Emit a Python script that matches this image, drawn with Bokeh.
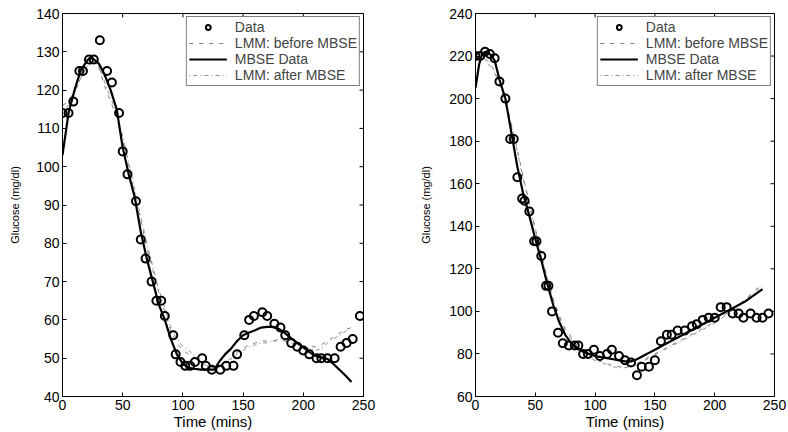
import math
from bokeh.plotting import figure
from bokeh.layouts import row
from bokeh.models import FixedTicker, Range1d, Legend, LegendItem
from bokeh.embed import file_html
from bokeh.resources import INLINE

# ---------------- Left panel data ----------------
left_data_t = [0, 5, 9, 14, 17, 22, 26, 31, 37, 41, 47, 50, 54, 61, 65, 69, 74, 78, 82, 85,
               92, 94, 98, 102, 106, 110, 116, 119, 124, 131, 136, 142, 145, 151, 155, 159,
               166, 170, 176, 181, 185, 190, 195, 200, 205, 211, 215, 220, 226, 231, 236, 241, 247]
left_data_g = [114, 114, 117, 125, 125, 128, 128, 133, 125, 122, 114, 104, 98, 91, 81, 76, 70, 65, 65, 61,
               56, 51, 49, 48, 48, 49, 50, 48, 47, 47, 48, 48, 51, 56, 60, 61,
               62, 61, 59, 58, 56, 54, 53, 52, 51, 50, 50, 50, 50, 53, 54, 55, 61]

left_mbse_t = [0, 5, 10, 15, 20, 23, 26, 30, 35, 40, 45, 50, 55, 60, 65, 70, 75, 80, 85, 90,
               95, 100, 105, 110, 115, 120, 126, 130, 135, 140, 145, 150, 155, 160, 165, 170,
               175, 180, 185, 190, 195, 200, 205, 210, 215, 220, 225, 230, 235, 240]
left_mbse_g = [103, 114, 120, 125, 127.5, 128.5, 128, 127, 124, 120, 115, 105, 98, 92, 83, 76, 70, 64, 60, 55,
               51, 48.5, 47.5, 47.2, 47, 47, 47, 49, 51, 52.5, 54.5, 56, 56.7, 57.3, 58, 58.2,
               58.2, 57.6, 56.5, 55.2, 54, 52.8, 51.6, 50.6, 50.2, 49.8, 48.5, 47, 45.5, 43.8]

lmm_t = [0, 5, 10, 15, 20, 25, 30, 35, 40, 45, 50, 55, 60, 65, 70, 75, 80, 85, 90, 95,
         100, 105, 110, 115, 120, 125, 130, 135, 140, 145, 150, 155, 160, 165, 170, 175,
         180, 185, 190, 195, 200, 205, 210, 215, 220, 225, 230, 235, 240]
left_lmm_before = [116, 117, 120, 123, 126, 127, 126, 121, 117, 113, 107, 100, 93, 86, 79, 73, 67, 62, 57, 54,
                   52, 51, 50, 48.5, 48, 47.5, 48, 49, 50, 51.5, 52.5, 53.5, 54, 54.5, 54.5, 54.5,
                   54.5, 54.5, 54, 53.5, 53, 53, 53, 53.5, 54.5, 55.5, 56.5, 57.5, 58]
left_lmm_after = [115, 116, 119, 123, 126, 127.5, 126.5, 122, 118, 114, 108, 101, 94, 87, 80, 74, 68, 63, 58, 55,
                  53, 52, 50.5, 49, 48, 47.5, 47.5, 48.5, 49.5, 51, 52, 53, 53.5, 54, 54, 54.5,
                  55, 54.5, 54, 53.5, 53, 52.5, 52, 52.5, 54, 55, 56, 57, 58]

# ---------------- Right panel data ----------------
right_data_t = [0, 4, 8, 12, 16, 20, 25, 29, 32, 35, 39, 41, 45, 49, 51, 55, 59, 61, 64, 69,
                73, 78, 83, 86, 90, 94, 99, 104, 110, 114, 120, 125, 130, 135, 139, 145,
                150, 155, 160, 164, 169, 175, 181, 185, 190, 195, 200, 205, 210, 215, 220,
                224, 230, 235, 240, 245]
right_data_g = [220, 220, 222, 221, 219, 208, 200, 181, 181, 163, 153, 152, 147, 133, 133, 126, 112, 112, 100, 90,
                85, 84, 84, 84, 80, 80, 82, 79, 80, 82, 79, 77, 76, 70, 74, 74,
                77, 86, 89, 89, 91, 91, 93, 94, 96, 97, 97, 102, 102, 99, 99,
                97, 99, 97, 97, 99]

right_mbse_t = [0, 3, 5, 8, 12, 16, 20, 25, 30, 35, 40, 45, 50, 55, 60, 65, 70, 75, 80, 85,
                90, 95, 100, 105, 110, 115, 120, 125, 130, 135, 140, 145, 150, 155, 160, 165,
                170, 175, 180, 185, 190, 195, 200, 205, 210, 215, 220, 225, 230, 235, 240]
right_mbse_g = [205, 216, 220, 222, 221, 218, 209, 200, 184, 168, 155, 145, 134, 124, 113, 103, 95, 89, 85, 83,
                81, 80, 79, 78.5, 78, 77.5, 77, 76.5, 76.5, 77.5, 79, 80.5, 82, 83.5, 85, 86.5,
                88, 89.5, 91, 92.5, 94, 95.5, 97, 98.5, 100, 101.5, 103, 104.5, 106.5, 108.5, 110.5]
right_lmm_before = [220, 219, 218, 214, 208, 199, 188, 176, 163, 151, 139, 127, 116, 106, 98, 92, 88, 84, 81, 79,
                    77.5, 76.5, 75.5, 74.5, 74, 74, 74.5, 75.5, 77, 78.5, 80, 81.5, 83, 84.5, 86, 87.5,
                    89, 90.5, 92, 93.5, 95, 97, 99, 101, 103, 105.5, 108, 110.5, 113]
right_lmm_after = [219, 219, 217, 213, 207, 198, 187, 175, 162, 150, 138, 126, 115, 105, 97, 91, 87, 83, 80, 78,
                   77, 76, 75, 74, 73.5, 73.5, 74, 75, 76.5, 78, 79.5, 81, 82.5, 84, 85.5, 87,
                   88.5, 90, 91.5, 93, 94.5, 96.5, 98.5, 100.5, 102.5, 105, 107.5, 110, 112]

x_ticks = [0, 50, 100, 150, 200, 250]
left_y_ticks = [40, 50, 60, 70, 80, 90, 100, 110, 120, 130, 140]
right_y_ticks = [60, 80, 100, 120, 140, 160, 180, 200, 220, 240]

FONT = "Liberation Sans"


def make_panel(data_t, data_g, mbse_t, mbse_g, lt, lb, la, yticks, border_left, border_right, ylab_standoff):
    p = figure(width=394, height=432, output_backend="svg", toolbar_location=None,
               x_range=Range1d(0, 250), y_range=Range1d(yticks[0], yticks[-1]),
               min_border_left=border_left, min_border_right=border_right,
               min_border_top=13, min_border_bottom=34)
    p.xgrid.visible = False
    p.ygrid.visible = False
    p.outline_line_color = "black"
    p.outline_line_width = 1
    p.background_fill_color = "white"
    p.border_fill_color = "white"

    for ax in (p.xaxis[0], p.yaxis[0]):
        ax.axis_line_color = "black"
        ax.major_tick_line_color = "black"
        ax.major_tick_in = 4
        ax.major_tick_out = 0
        ax.minor_tick_line_color = None
        ax.major_label_text_font = FONT
        ax.major_label_text_font_size = "14px"
        ax.major_label_text_color = "black"
        ax.axis_label_text_font = FONT
        ax.axis_label_text_font_style = "normal"
        ax.axis_label_text_color = "black"
    p.xaxis[0].ticker = FixedTicker(ticks=x_ticks)
    p.yaxis[0].ticker = FixedTicker(ticks=yticks)
    p.xaxis[0].axis_label = "Time (mins)"
    p.xaxis[0].axis_label_text_font_size = "15px"
    p.xaxis[0].axis_label_standoff = 0
    p.xaxis[0].major_label_standoff = 3
    p.yaxis[0].axis_label = "Glucose (mg/dl)"
    p.yaxis[0].axis_label_text_font_size = "11px"
    p.yaxis[0].axis_label_standoff = ylab_standoff
    p.yaxis[0].major_label_standoff = 3

    # inward tick marks on the top and right frame edges (clipped to the frame)
    p.scatter(x_ticks, [yticks[-1]] * len(x_ticks), marker="dash", size=8, angle=math.pi / 2,
              line_color="black", line_width=1)
    p.scatter([250] * len(yticks), yticks, marker="dash", size=8,
              line_color="black", line_width=1)

    r_before = p.line(lt, lb, line_color="#808080", line_width=1, line_dash="4 6")
    r_after = p.line(lt, la, line_color="#909090", line_width=1, line_dash="1 3 4 3")
    r_mbse = p.line(mbse_t, mbse_g, line_color="black", line_width=2.2)
    r_data = p.scatter(data_t, data_g, marker="circle", size=8, fill_color=None,
                       line_color="black", line_width=2)

    legend = Legend(items=[LegendItem(label="Data", renderers=[r_data]),
                           LegendItem(label="LMM: before MBSE", renderers=[r_before]),
                           LegendItem(label="MBSE Data", renderers=[r_mbse]),
                           LegendItem(label="LMM: after MBSE", renderers=[r_after])],
                    location="top_right", margin=3, padding=2, spacing=0,
                    glyph_width=38, glyph_height=12, label_height=12, label_standoff=8,
                    label_text_font=FONT, label_text_font_size="14px",
                    border_line_color="black", border_line_width=1,
                    background_fill_color="white", background_fill_alpha=1)
    p.add_layout(legend)
    return p


p1 = make_panel(left_data_t, left_data_g, left_mbse_t, left_mbse_g, lmm_t,
                left_lmm_before, left_lmm_after, left_y_ticks, 62, 31, 12)
p2 = make_panel(right_data_t, right_data_g, right_mbse_t, right_mbse_g, lmm_t,
                right_lmm_before, right_lmm_after, right_y_ticks, 81, 14, 14)

layout = row(p1, p2)
open("out.html", "w").write(file_html(layout, INLINE))
